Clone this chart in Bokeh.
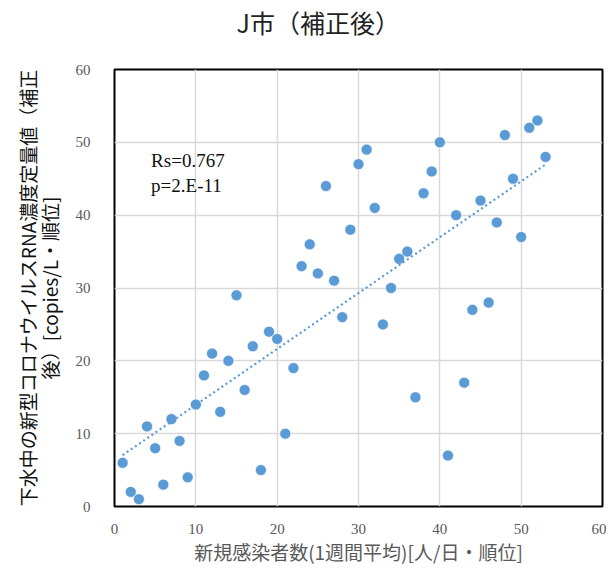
import numpy as np
from bokeh.plotting import figure
from bokeh.models import Range1d, Label, FixedTicker
from bokeh.embed import file_html
from bokeh.resources import INLINE

# Data (ranks)
x_rank = list(range(1, 54))
y_rank = [6, 2, 1, 11, 8, 3, 12, 9, 4, 14,
          18, 21, 13, 20, 29, 16, 22, 5, 24, 23,
          10, 19, 33, 36, 32, 44, 31, 26, 38, 47,
          49, 41, 25, 30, 34, 35, 15, 43, 46, 50,
          7, 40, 17, 27, 42, 28, 39, 51, 45, 37,
          52, 53, 48]
axis_ticks = [0, 10, 20, 30, 40, 50, 60]
title_text = "J市（補正後）"
x_label = "新規感染者数(1週間平均)[人/日・順位]"
y_label = "下水中の新型コロナウイルスRNA濃度定量値（補正\n後）[copies/L・順位]"
stat_lines = ["Rs=0.767", "p=2.E-11"]

p = figure(width=606, height=567, output_backend="svg", toolbar_location=None,
           x_range=Range1d(0, 60), y_range=Range1d(0, 60),
           min_border_left=114, min_border_right=4, min_border_top=69, min_border_bottom=61)

# trailing blank line lifts the visible title line higher above the frame
p.title.text = title_text + "\n\u3000"
p.title.align = "left"
p.title.offset = 122
p.title.standoff = 2
p.title.text_line_height = 0.8
p.title.text_font = "Noto Sans CJK JP"
p.title.text_font_size = "25px"
p.title.text_font_style = "normal"
p.title.text_color = "#222222"

p.outline_line_color = "black"
p.outline_line_width = 2
p.background_fill_color = "white"
p.border_fill_color = "white"

for ax in (p.xaxis, p.yaxis):
    ax.ticker = FixedTicker(ticks=axis_ticks)
    ax.major_tick_line_color = None
    ax.minor_tick_line_color = None
    ax.axis_line_color = None
    ax.major_label_text_font = "Liberation Serif"
    ax.major_label_text_font_size = "15px"
    ax.major_label_text_color = "#595959"
    ax.axis_label_text_font = "Noto Sans CJK JP"
    ax.axis_label_text_font_style = "normal"

p.xaxis.major_label_standoff = 11
p.yaxis.major_label_standoff = 18
p.xaxis.axis_label = x_label
p.xaxis.axis_label_text_font_size = "19px"
p.xaxis.axis_label_text_color = "#595959"
p.xaxis.axis_label_standoff = 1
p.yaxis.axis_label = y_label
p.yaxis.axis_label_text_font_size = "19px"
p.yaxis.axis_label_text_color = "#111111"
p.yaxis.axis_label_text_line_height = 0.78
p.yaxis.axis_label_standoff = 10

p.grid.grid_line_color = "#d9d9d9"
p.grid.grid_line_width = 1.5

p.scatter(x_rank, y_rank, size=11, fill_color="#5b9bd5", line_color="white", line_width=0.6)

coef = np.polyfit(x_rank, y_rank, 1)
xs = np.array([min(x_rank), max(x_rank)], dtype=float)
p.line(xs, np.polyval(coef, xs), line_dash="2 3", line_width=2.2, line_color="#5b9bd5")

p.add_layout(Label(x=4.5, y=47.5, text=stat_lines[0], text_font="Liberation Serif",
                   text_font_size="19px", text_color="#111111", text_baseline="alphabetic"))
p.add_layout(Label(x=4.5, y=44.1, text=stat_lines[1], text_font="Liberation Serif",
                   text_font_size="19px", text_color="#111111", text_baseline="alphabetic"))

open("out.html", "w").write(file_html(p, INLINE))
